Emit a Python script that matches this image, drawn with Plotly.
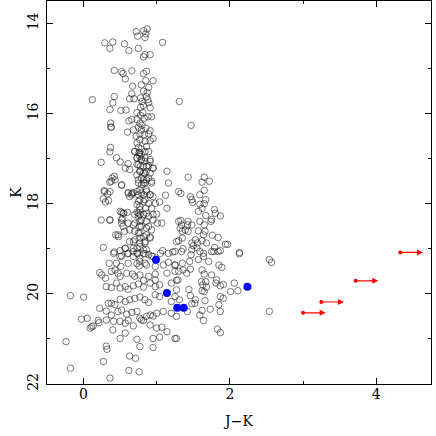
import plotly.graph_objects as go

# (J-K, K) pairs, grouped by region
upper_branch = [
    (0.72, 14.18), (0.74, 14.28), (0.82, 14.16), (0.87, 14.12), (0.85, 14.23), (0.84, 14.31),
    (0.29, 14.43), (0.40, 14.41), (0.36, 14.55), (0.56, 14.45), (0.62, 14.60), (0.75, 14.55),
    (1.08, 14.42), (0.82, 14.74), (0.84, 14.69), (0.91, 14.69),
    (0.42, 15.04), (0.52, 15.07), (0.54, 15.11), (0.66, 15.05), (0.57, 15.23), (0.82, 15.11),
    (0.86, 15.06), (0.85, 15.27), (0.95, 15.27),
    (0.67, 15.39), (0.79, 15.36), (0.89, 15.42), (0.66, 15.56), (0.82, 15.50), (0.87, 15.53),
    (0.86, 15.62), (0.88, 15.69), (0.12, 15.69), (0.42, 15.62), (0.40, 15.76), (0.63, 15.67),
    (0.69, 15.67), (0.78, 15.65), (0.80, 15.73), (0.82, 15.82), (0.78, 15.86), (0.89, 15.76),
    (0.91, 15.87), (1.31, 15.73),
    (0.51, 15.93), (0.58, 15.92), (0.36, 15.91), (0.37, 16.21), (0.37, 16.30), (0.62, 16.16),
    (0.66, 16.13), (0.73, 15.98), (0.73, 16.13), (0.78, 16.04), (0.81, 15.98), (0.77, 16.21),
    (0.83, 16.10), (0.88, 16.07), (0.93, 16.07), (0.80, 16.26), (1.47, 16.26),
]

middle_branch = [
    (0.38, 16.30), (0.60, 16.41), (0.68, 16.36), (0.75, 16.30), (0.79, 16.36), (0.85, 16.32),
    (0.91, 16.38), (0.72, 16.50), (0.77, 16.45), (0.83, 16.47), (0.89, 16.45), (0.95, 16.55),
    (0.77, 16.58), (0.84, 16.61), (0.91, 16.60), (0.73, 16.65), (0.75, 16.75), (0.79, 16.78),
    (0.86, 16.73), (0.70, 16.84), (0.76, 16.87), (0.89, 16.84), (0.37, 16.75), (0.36, 16.85),
    (0.45, 16.98), (0.50, 17.07), (0.24, 17.08), (0.61, 17.11), (0.73, 16.98), (0.77, 16.95),
    (0.79, 17.02), (0.84, 16.98), (0.73, 17.13), (0.78, 17.17), (0.86, 17.17), (0.91, 17.06),
    (0.95, 17.21), (0.57, 17.21), (0.63, 17.24), (0.77, 17.28), (0.82, 17.32), (0.86, 17.28),
    (1.14, 17.28), (0.73, 17.36), (0.75, 17.47), (0.82, 17.47), (0.89, 17.43), (0.79, 17.58),
    (0.84, 17.54), (0.93, 17.54), (1.16, 17.54), (0.39, 17.43), (0.42, 17.39), (0.36, 17.52),
    (0.52, 17.59), (0.77, 17.69), (0.86, 17.69), (0.68, 17.76), (0.75, 17.80), (0.82, 17.80),
    (0.91, 17.80), (0.95, 17.84), (1.12, 17.81), (0.28, 17.71), (0.33, 17.78), (0.27, 17.89),
    (0.30, 17.96), (0.34, 17.93), (0.61, 17.76), (0.63, 17.84), (0.66, 17.80), (0.75, 17.95),
    (0.82, 17.95), (0.89, 17.99), (1.04, 17.96), (0.77, 18.06), (0.85, 18.10), (0.93, 18.10),
    (1.14, 18.10), (1.30, 17.73), (0.52, 18.19), (0.55, 18.21), (0.60, 18.19), (0.73, 18.19),
    (0.75, 18.28), (0.70, 18.24), (0.77, 18.24), (0.86, 18.21), (0.95, 18.24), (1.00, 18.23),
    (0.24, 18.36), (0.36, 18.36), (0.53, 18.33), (0.52, 18.43), (0.61, 18.43), (0.77, 18.39),
    (0.86, 18.39), (1.01, 18.43), (1.07, 18.43), (1.30, 18.39), (0.68, 18.47), (0.79, 18.50),
    (0.89, 18.50), (0.44, 18.69), (0.48, 18.73), (0.56, 18.61), (0.63, 18.58), (0.70, 18.61),
    (0.77, 18.65), (0.86, 18.69), (0.77, 18.76), (0.70, 18.80), (0.63, 18.84), (0.84, 18.84),
    (0.91, 18.76), (0.27, 18.97), (0.42, 19.07), (0.50, 19.04), (0.57, 18.99), (0.68, 18.99),
    (0.77, 18.95), (0.86, 19.02), (1.08, 19.04), (1.22, 19.07), (1.27, 18.84), (0.73, 19.10),
    (0.82, 19.10),
]

# extra stars in the crowded part of the giant branch
branch_core = [
    (0.70, 16.84), (0.76, 16.86), (0.79, 16.91), (0.84, 16.84), (0.73, 16.99), (0.79, 17.02),
    (0.84, 17.06), (0.91, 17.02), (0.75, 17.13), (0.82, 17.17), (0.89, 17.16), (0.95, 17.21),
    (0.77, 17.28), (0.84, 17.32), (0.91, 17.32), (0.79, 17.43), (0.86, 17.47), (0.75, 17.54),
    (0.82, 17.54), (0.93, 17.50), (0.61, 17.76), (0.66, 17.76), (0.73, 17.73), (0.79, 17.76),
    (0.86, 17.73), (0.91, 17.80), (0.77, 17.91), (0.84, 17.91), (0.98, 17.99), (0.73, 18.02),
    (0.77, 18.13), (0.75, 18.21), (0.82, 18.24), (0.79, 18.36), (0.89, 18.28), (0.95, 18.36),
    (0.70, 18.43), (0.77, 18.50), (0.86, 18.54), (0.93, 18.58), (0.75, 18.65), (0.82, 18.73),
    (0.91, 18.74), (0.68, 18.84), (0.77, 18.87), (0.84, 18.87), (0.73, 18.99), (0.82, 19.02),
    (0.68, 19.17), (0.77, 19.21), (0.89, 19.13), (0.95, 19.17), (0.84, 19.32),
    (0.43, 17.47), (0.38, 17.50), (0.29, 17.73), (0.36, 17.73), (0.52, 17.58), (0.54, 18.21),
    (0.50, 18.17), (0.36, 18.36), (0.52, 18.36), (0.54, 18.50), (0.47, 18.69), (0.57, 18.99),
    (0.61, 19.10), (0.50, 19.17),
]

faint_stars = [
    (0.41, 19.10), (0.52, 19.16), (0.60, 19.11), (0.68, 19.06), (0.74, 19.11), (0.84, 19.11),
    (0.93, 19.16), (1.05, 19.10), (1.16, 19.10), (1.25, 19.06), (0.35, 19.32), (0.45, 19.32),
    (0.51, 19.39), (0.61, 19.32), (0.73, 19.33), (0.77, 19.28), (0.76, 19.38), (0.86, 19.36),
    (0.98, 19.39), (1.09, 19.36), (1.16, 19.30), (1.25, 19.36), (0.22, 19.53), (0.25, 19.58),
    (0.30, 19.65), (0.38, 19.50), (0.43, 19.47), (0.47, 19.54), (0.50, 19.61), (0.59, 19.54),
    (0.67, 19.56), (0.70, 19.61), (0.77, 19.58), (0.82, 19.70), (0.89, 19.61), (0.98, 19.56),
    (0.98, 19.69), (1.14, 19.54), (1.25, 19.50), (1.27, 19.70), (-0.18, 20.04), (0.00, 20.07),
    (0.31, 19.84), (0.38, 19.86), (0.45, 19.76), (0.50, 19.87), (0.57, 19.84), (0.61, 19.90),
    (0.68, 19.82), (0.75, 19.78), (0.82, 19.85), (0.91, 19.76), (0.98, 19.84), (1.04, 19.80),
    (1.20, 19.76), (1.27, 19.91), (0.34, 20.21), (0.38, 20.21), (0.43, 20.24), (0.50, 20.12),
    (0.57, 20.17), (0.63, 20.13), (0.70, 20.10), (0.77, 20.07), (0.84, 20.13), (0.89, 20.19),
    (0.98, 20.02), (1.04, 20.06), (1.20, 20.17), (1.25, 20.06), (0.22, 20.32), (0.31, 20.38),
    (0.38, 20.47), (0.47, 20.39), (0.52, 20.36), (0.59, 20.45), (0.66, 20.41), (0.73, 20.39),
    (0.77, 20.54), (0.79, 20.58), (0.86, 20.50), (0.91, 20.47), (0.95, 20.49), (1.00, 20.43),
    (1.09, 20.39), (1.20, 20.43), (1.27, 20.50), (-0.03, 20.56), (0.05, 20.54), (0.09, 20.76),
    (0.11, 20.73), (0.13, 20.71), (0.20, 20.59), (0.21, 20.64), (0.31, 20.58), (0.41, 20.61),
    (0.50, 20.61), (0.57, 20.65), (0.61, 20.59), (0.68, 20.71), (0.82, 20.59), (0.91, 20.69),
    (1.00, 20.76), (1.07, 20.74), (1.14, 20.84), (1.27, 20.99), (-0.24, 21.06), (0.31, 21.16),
    (0.32, 21.23), (0.40, 20.80), (0.50, 20.99), (0.57, 20.87), (0.73, 21.01), (0.77, 21.17),
    (0.95, 20.99), (1.04, 20.96), (0.95, 21.19), (0.27, 21.50), (0.63, 21.38), (0.71, 21.43),
    (-0.18, 21.65), (0.62, 21.70), (0.76, 21.73), (0.36, 21.87),
]

red_clump = [
    (1.43, 17.41), (1.65, 17.41), (1.62, 17.52), (1.72, 17.50), (1.33, 17.77), (1.46, 17.84),
    (1.48, 17.91), (1.49, 17.97), (1.59, 17.80), (1.65, 17.70), (1.67, 17.91), (1.59, 18.01),
    (1.65, 18.00), (1.57, 18.17), (1.62, 18.10), (1.79, 18.13), (1.80, 18.21), (1.87, 18.27),
    (1.74, 18.39), (1.75, 18.35), (1.67, 18.26), (1.33, 18.37), (1.34, 18.47), (1.43, 18.39),
    (1.42, 18.47), (1.48, 18.47), (1.39, 18.58), (1.43, 18.61), (1.35, 18.61), (1.32, 18.54),
    (1.59, 18.39), (1.65, 18.47), (1.57, 18.60), (1.66, 18.61), (1.64, 18.69), (1.76, 18.70),
    (1.84, 18.75), (1.30, 18.82), (1.35, 18.76), (1.36, 19.00), (1.34, 19.06), (1.48, 18.87),
    (1.50, 18.93), (1.53, 18.80), (1.56, 18.87), (1.62, 18.82), (1.68, 18.87), (1.48, 19.02),
    (1.55, 18.98), (1.64, 19.10), (1.79, 18.97), (1.87, 19.04), (1.78, 19.06), (1.94, 18.90),
    (1.97, 18.90), (2.13, 19.08),
    (1.47, 19.13), (1.59, 19.06), (1.75, 19.06), (1.84, 19.06), (2.13, 19.11), (2.54, 19.24),
    (2.57, 19.30), (1.25, 19.36), (1.35, 19.32), (1.45, 19.28), (1.57, 19.24), (1.64, 19.17),
    (1.71, 19.28), (1.85, 19.36), (1.89, 19.41), (1.36, 19.47), (1.46, 19.45), (1.30, 19.50),
    (1.41, 19.54), (1.29, 19.69), (1.62, 19.47), (1.65, 19.56), (1.75, 19.58), (1.82, 19.69),
    (1.61, 19.73), (1.63, 19.80), (1.67, 19.73), (1.62, 19.93), (1.65, 19.95), (1.68, 19.85),
    (1.81, 19.76), (1.87, 19.82), (1.91, 19.79), (2.06, 19.76), (2.01, 19.95), (2.11, 19.93),
    (1.44, 19.90), (1.46, 20.04), (1.53, 20.13), (1.48, 20.22), (1.52, 20.21), (1.66, 20.15),
    (1.87, 20.06), (1.91, 20.10), (1.85, 20.24), (1.73, 20.34), (1.87, 20.39), (1.62, 20.37),
    (1.59, 20.47), (1.64, 20.59), (1.31, 20.13), (1.42, 20.39), (1.83, 20.78), (1.87, 20.86),
    (1.25, 20.99), (2.54, 20.39),
]

# highlighted sources (filled blue)
blue_jk = [0.99, 1.14, 1.28, 1.37, 2.24]
blue_k = [19.24, 19.98, 20.31, 20.31, 19.84]

# lower limits in J-K (red arrows)
limit_jk = [3.00, 3.25, 3.72, 4.33]
limit_k = [20.42, 20.18, 19.71, 19.08]
limit_len = 0.31

stars = upper_branch + middle_branch + branch_core + faint_stars + red_clump
star_jk = [p[0] for p in stars]
star_k = [p[1] for p in stars]

fig = go.Figure()
fig.add_trace(go.Scatter(
    x=star_jk, y=star_k, mode='markers',
    marker=dict(symbol='circle-open', size=6.5, color='#222222', line=dict(width=0.6)),
))
fig.add_trace(go.Scatter(
    x=blue_jk, y=blue_k, mode='markers',
    marker=dict(symbol='circle', size=8, color='#0000ff'),
))
fig.add_trace(go.Scatter(
    x=limit_jk, y=limit_k, mode='markers',
    marker=dict(symbol='circle', size=4, color='red'),
))
for jk, k in zip(limit_jk, limit_k):
    fig.add_annotation(
        x=jk + limit_len, y=k, ax=jk, ay=k,
        xref='x', yref='y', axref='x', ayref='y',
        text='', showarrow=True, arrowhead=2, arrowsize=1,
        arrowwidth=1.2, arrowcolor='red',
    )

axis_common = dict(
    showline=True, linecolor='black', linewidth=1, mirror='allticks',
    ticks='inside', ticklen=6, tickwidth=1, tickcolor='black',
    showgrid=False, zeroline=False, automargin=False,
    tickfont=dict(family='DejaVu Serif', size=14, color='black'),
)

fig.update_layout(
    width=436, height=436,
    margin=dict(l=47, r=5, t=1, b=52),
    plot_bgcolor='white', paper_bgcolor='white',
    showlegend=False,
    xaxis=dict(
        range=[-0.5, 4.75], dtick=2, tick0=0, ticklabelstandoff=-3,
        minor=dict(dtick=1, ticks='inside', ticklen=3, tickcolor='black'),
        title=dict(text='J\u2212K', font=dict(family='DejaVu Serif', size=14, color='black'), standoff=15),
        **axis_common,
    ),
    yaxis=dict(
        range=[22, 13.5], dtick=2, tick0=0, tickangle=-90, ticklabelstandoff=2,
        minor=dict(dtick=1, ticks='inside', ticklen=3, tickcolor='black'),
        title=dict(text='K', font=dict(family='DejaVu Serif', size=14, color='black'), standoff=0),
        **axis_common,
    ),
)

# drop the default page margin so the 436px figure fills the window
fig.write_html("out.html", config={'displayModeBar': False},
               post_script="document.body.style.margin='0';")
